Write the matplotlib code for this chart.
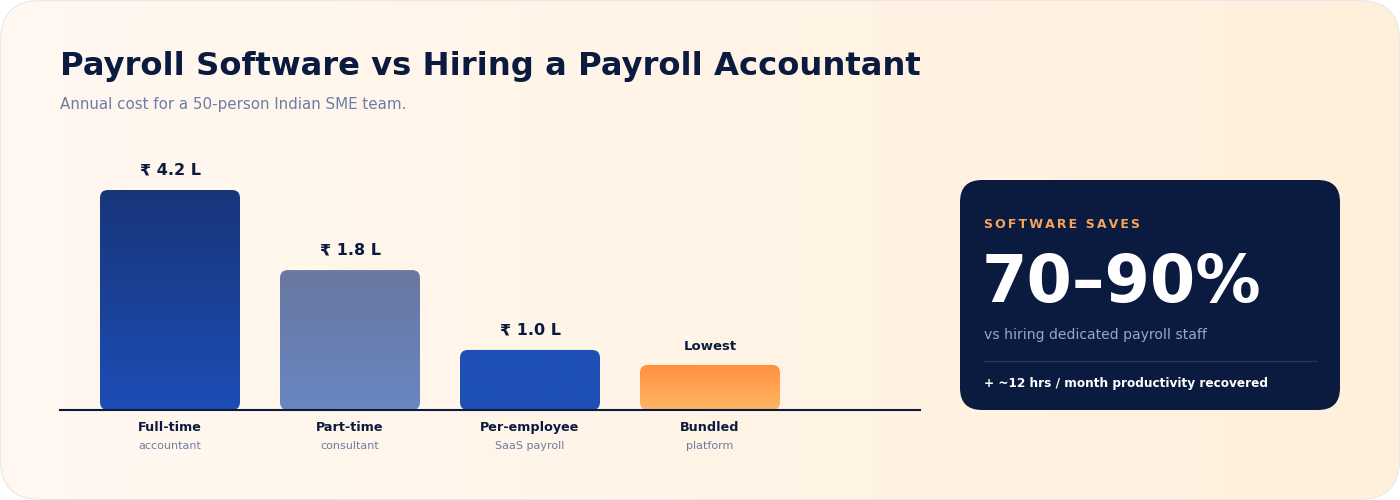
import numpy as np
import matplotlib
matplotlib.use('Agg')
import matplotlib.pyplot as plt
from matplotlib.patches import FancyBboxPatch
from matplotlib.colors import LinearSegmentedColormap

plt.rcParams['font.family'] = ['DejaVu Sans']

# data
categories = ['Full-time', 'Part-time', 'Per-employee', 'Bundled']
sub_labels = ['accountant', 'consultant', 'SaaS payroll', 'platform']
value_labels = ['₹ 4.2 L', '₹ 1.8 L', '₹ 1.0 L', 'Lowest']
# relative bar height as drawn (full-time = 100)
bar_values = [100, 63.6, 27.3, 20.5]
bar_colors = [('#17367a', '#1e4db6'), ('#6878a0', '#6a86c2'),
              ('#1e4fb4', '#1e4fb4'), ('#ff913d', '#ffb566')]

NAVY = '#0b1b3f'
MUTED = '#6e7da3'

fig = plt.figure(figsize=(14, 5), dpi=100)
fig.patch.set_facecolor('white')

# background axes in pixel units
bg = fig.add_axes([0, 0, 1, 1])
bg.set_xlim(0, 1400)
bg.set_ylim(500, 0)
bg.axis('off')

frame = FancyBboxPatch((0.5, 0.5), 1399, 499, boxstyle='round,pad=0,rounding_size=40',
                       facecolor='none', edgecolor='#e8e8e8', lw=0.8, zorder=3)
bg.add_patch(frame)
bg_cmap = LinearSegmentedColormap.from_list('bg', ['#fff8f1', '#fff0dc'])
im = bg.imshow(np.linspace(0, 1, 256).reshape(1, -1), cmap=bg_cmap, extent=[0, 1400, 500, 0],
               aspect='auto', zorder=1)
im.set_clip_path(frame)

# title
bg.text(60, 67, 'Payroll Software vs Hiring a Payroll Accountant', fontsize=23.2, fontweight='bold',
        color=NAVY, va='center', ha='left', zorder=5)
bg.text(60, 104, 'Annual cost for a 50-person Indian SME team.', fontsize=10.9, color=MUTED,
        va='center', ha='left', zorder=5)

# side card
card = FancyBboxPatch((960, 180), 380, 230, boxstyle='round,pad=0,rounding_size=22',
                      facecolor='#0b1b3f', edgecolor='none', zorder=4)
bg.add_patch(card)

# letter-spaced kicker (six-per-em spaces between letters)
kicker = '\u2006'.join('SOFTWARE SAVES')
bg.text(984, 224, kicker, fontsize=9, fontweight='bold', color='#f5a65b', va='center',
        ha='left', zorder=5)

bg.text(982, 284, '70–90%', fontsize=47, fontweight='bold', color='white', va='center',
        ha='left', zorder=5)
bg.text(984, 335, 'vs hiring dedicated payroll staff', fontsize=10.1, color='#9aa6c2',
        va='center', ha='left', zorder=5)
bg.plot([984, 1316], [361, 361], color='#26355b', lw=1, zorder=5)
bg.text(984, 384, '+ ~12 hrs / month productivity recovered', fontsize=8.7, fontweight='bold',
        color='white', va='center', ha='left', zorder=5)

# bar chart axes: x 60..920 px, baseline at 410 px, top at 150 px
ax = fig.add_axes([60 / 1400, 90 / 500, 860 / 1400, 260 / 500])
ax.patch.set_alpha(0)
ax.axis('off')
x = np.arange(len(categories))
xmin = -110 / 180
xmax = xmin + 860 / 180
ymax = 100 * 260 / 220
bars = ax.bar(x, bar_values, width=140 / 180, color='none')

px_x = 180.0
px_y = 220 / 100
r = 8 / px_x
for rect, (c_top, c_bot) in zip(bars, bar_colors):
    rect.set_visible(False)
    x0, w, h = rect.get_x(), rect.get_width(), rect.get_height()
    patch = FancyBboxPatch((x0, 0), w, h, boxstyle=f'round,pad=0,rounding_size={r}',
                           mutation_aspect=px_x / px_y, facecolor='none', edgecolor='none')
    ax.add_patch(patch)
    cmap = LinearSegmentedColormap.from_list('b', [c_bot, c_top])
    g = ax.imshow(np.linspace(0, 1, 128).reshape(-1, 1), cmap=cmap, origin='lower',
                  extent=[x0, x0 + w, 0, h], aspect='auto', zorder=2)
    g.set_clip_path(patch)

ax.axhline(0, color=NAVY, lw=1.5, zorder=3, clip_on=False)

for i, (v, lab) in enumerate(zip(bar_values, value_labels)):
    if lab == 'Lowest':
        ax.annotate(lab, (i, v), xytext=(0, 13), textcoords='offset points', ha='center',
                    va='center', fontsize=9.5, fontweight='bold', color=NAVY)
    else:
        ax.annotate(lab, (i, v), xytext=(0, 14.4), textcoords='offset points', ha='center',
                    va='center', fontsize=11.5, fontweight='bold', color=NAVY)
    ax.annotate(categories[i], (i, 0), xytext=(0, -12.5), textcoords='offset points',
                ha='center', va='center', fontsize=9.2, fontweight='bold', color=NAVY)
    ax.annotate(sub_labels[i], (i, 0), xytext=(0, -26), textcoords='offset points',
                ha='center', va='center', fontsize=8, color=MUTED)

ax.set_xlim(xmin, xmax)
ax.set_ylim(0, ymax)

fig.savefig('out.png', dpi=100, facecolor=fig.get_facecolor())
